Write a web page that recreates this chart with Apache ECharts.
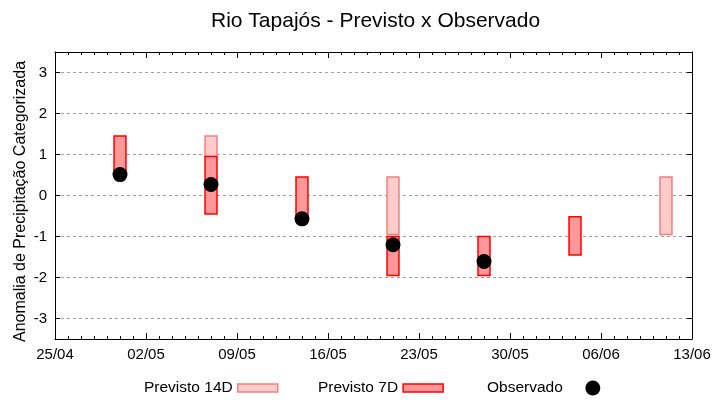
<!DOCTYPE html>
<html>
<head>
<meta charset="utf-8">
<script src="https://cdn.jsdelivr.net/npm/echarts@6/dist/echarts.min.js"></script>
<style>html,body{margin:0;padding:0;background:#fff}#c{width:720px;height:400px}</style>
</head>
<body>
<div id="c"></div>
<script>
// ---- data ----
const startDate = '2024-04-25';
const endDate = '2024-06-13';
const yTicks = [-3, -2, -1, 0, 1, 2, 3];

const dates14D = ['2024-05-07', '2024-05-21', '2024-06-11'];
const low14D   = [0.95, -0.95, -0.95];
const high14D  = [1.45, 0.45, 0.45];

const dates7D = ['2024-04-30', '2024-05-07', '2024-05-14', '2024-05-21', '2024-05-28', '2024-06-04'];
const low7D   = [0.5, -0.45, -0.5, -1.95, -1.95, -1.45];
const high7D  = [1.45, 0.95, 0.45, -1.0, -1.0, -0.52];

const datesObs = ['2024-04-30', '2024-05-07', '2024-05-14', '2024-05-21', '2024-05-28'];
const valuesObs = [0.51, 0.27, -0.57, -1.2, -1.61];

// ---- helpers ----
const DAY = 86400000;
const t0 = Date.parse(startDate);
function dayOffset(s) { return (Date.parse(s) - t0) / DAY; }
function fmtDate(v) {
  const d = new Date(t0 + v * DAY);
  const dd = String(d.getUTCDate()).padStart(2, '0');
  const mm = String(d.getUTCMonth() + 1).padStart(2, '0');
  return dd + '/' + mm;
}
const xMax = dayOffset(endDate);

const FONT = 'Liberation Sans';
const C14 = { fill: '#ffcccc', stroke: '#f08080' };
const C7 = { fill: '#ff9999', stroke: '#ff0000' };

function makeRender(col) {
  return function (params, api) {
    const x = api.value(0), lo = api.value(1), hi = api.value(2);
    const p1 = api.coord([x, hi]);
    const p2 = api.coord([x, lo]);
    const w = api.size([1, 0])[0] * 0.92;
    return {
      type: 'rect',
      shape: { x: p1[0] - w / 2, y: p1[1], width: w, height: p2[1] - p1[1] },
      style: { fill: col.fill, stroke: col.stroke, lineWidth: 1.5 }
    };
  };
}

const data14 = dates14D.map((d, i) => [dayOffset(d), low14D[i], high14D[i]]);
const data7 = dates7D.map((d, i) => [dayOffset(d), low7D[i], high7D[i]]);
const dataObs = datesObs.map((d, i) => [dayOffset(d), valuesObs[i]]);

const xCommon = {
  type: 'value', min: 0, max: xMax, interval: 7,
  axisLine: { show: true, onZero: false, lineStyle: { color: '#000', width: 1 } },
  axisTick: { show: true, inside: true, length: 6, lineStyle: { color: '#000' } },
  minorTick: { show: true, splitNumber: 7, length: 3, lineStyle: { color: '#000' } },
  splitLine: { show: false }
};
const yCommon = {
  type: 'value', min: -3.5, max: 3.5,
  axisLine: { show: true, onZero: false, lineStyle: { color: '#000', width: 1 } },
  axisTick: { show: true, inside: true, length: 5, customValues: yTicks, lineStyle: { color: '#000' } }
};

const legendBase = {
  orient: 'horizontal', align: 'right', top: 375,
  textStyle: { fontFamily: FONT, fontSize: 15.5, color: '#000' },
  selectedMode: false
};

const option = {
  backgroundColor: '#fff',
  animation: false,
  title: {
    text: 'Rio Tapajós - Previsto x Observado',
    left: 206, top: 6,
    textStyle: { fontFamily: FONT, fontSize: 21, fontWeight: 'normal', color: '#000' }
  },
  legend: [
    Object.assign({}, legendBase, {
      left: 139, itemWidth: 40, itemHeight: 8,
      data: [{ name: 'Previsto 14D', icon: 'rect', itemStyle: { color: C14.fill, borderColor: C14.stroke, borderWidth: 1.5 } }]
    }),
    Object.assign({}, legendBase, {
      left: 313, itemWidth: 40, itemHeight: 8,
      data: [{ name: 'Previsto 7D', icon: 'rect', itemStyle: { color: C7.fill, borderColor: C7.stroke, borderWidth: 1.5 } }]
    }),
    Object.assign({}, legendBase, {
      left: 482, itemWidth: 50, itemHeight: 15,
      data: [{ name: 'Observado', icon: 'circle', itemStyle: { color: '#000', borderWidth: 0, opacity: 1 } }]
    })
  ],
  grid: { left: 55, right: 28, top: 52, bottom: 61, containLabel: false },
  xAxis: [
    Object.assign({}, xCommon, {
      position: 'bottom',
      axisLabel: { show: true, margin: 8, fontFamily: FONT, fontSize: 15, color: '#000', formatter: fmtDate }
    }),
    Object.assign({}, xCommon, {
      position: 'top',
      axisLabel: { show: false }
    })
  ],
  yAxis: [
    Object.assign({}, yCommon, {
      position: 'left',
      name: 'Anomalia de Precipitação Categorizada',
      nameLocation: 'middle', nameGap: 26, nameRotate: 90, nameMoveOverlap: false,
      nameTextStyle: { fontFamily: FONT, fontSize: 16, color: '#000', padding: [0, 12, 0, 0] },
      axisLabel: {
        show: true, margin: 8, fontFamily: FONT, fontSize: 15, color: '#000',
        customValues: yTicks
      },
      splitLine: { show: true, lineStyle: { color: '#a0a0a0', type: [3, 3], width: 1 } }
    }),
    Object.assign({}, yCommon, {
      position: 'right',
      axisLabel: { show: false },
      splitLine: { show: false }
    })
  ],
  series: [
    {
      name: 'Previsto 14D', type: 'custom', xAxisIndex: 0, yAxisIndex: 0,
      renderItem: makeRender(C14), data: data14,
      encode: { x: 0, y: [1, 2] },
      itemStyle: { color: C14.fill, borderColor: C14.stroke }, z: 2
    },
    {
      name: 'Previsto 7D', type: 'custom', xAxisIndex: 0, yAxisIndex: 0,
      renderItem: makeRender(C7), data: data7,
      encode: { x: 0, y: [1, 2] },
      itemStyle: { color: C7.fill, borderColor: C7.stroke }, z: 3
    },
    {
      name: 'Observado', type: 'scatter', xAxisIndex: 0, yAxisIndex: 0,
      data: dataObs, symbol: 'circle', symbolSize: 15,
      itemStyle: { color: '#000', opacity: 1 }, z: 4
    }
  ]
};

const chart = echarts.init(document.getElementById('c'), null, { renderer: 'canvas' });
chart.setOption(option);
</script>
</body>
</html>
